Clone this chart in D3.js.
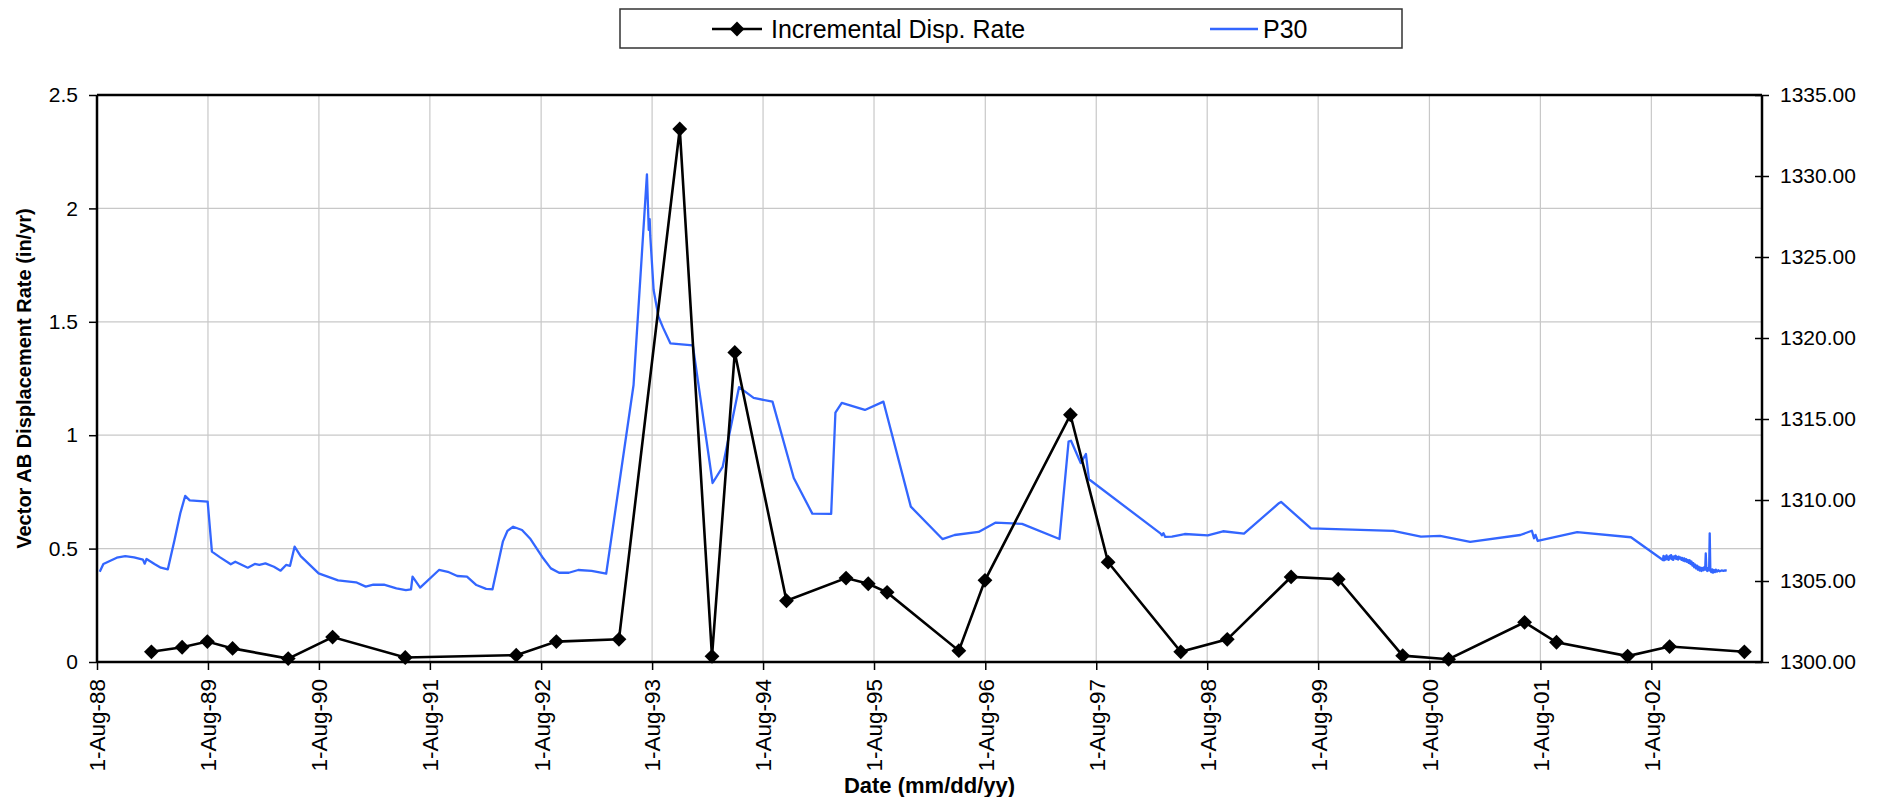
<!DOCTYPE html>
<html>
<head>
<meta charset="utf-8">
<script src="https://cdn.jsdelivr.net/npm/d3@7/dist/d3.min.js"></script>
<style>
  body { margin: 0; background: #fff; }
  text { font-family: "Liberation Sans", Arial, sans-serif; fill: #000; }
</style>
</head>
<body>
<svg id="chart" width="1881" height="797"></svg>
<script>
// Incremental displacement rate (in/yr), primary axis
const rateDates = ["1989-01-27","1989-05-08","1989-07-30","1989-10-21","1990-04-22","1990-09-15",
  "1991-05-12","1992-05-11","1992-09-20","1993-04-14","1993-10-31","1994-02-14","1994-04-30",
  "1994-10-17","1995-05-01","1995-07-13","1995-09-13","1996-05-06","1996-07-31","1997-05-08",
  "1997-09-09","1998-05-06","1998-10-06","1999-05-04","1999-10-06","2000-05-05","2000-10-03",
  "2001-06-10","2001-09-23","2002-05-15","2002-09-30","2003-06-03"];
const rateValues = [0.045,0.065,0.09,0.06,0.015,0.11,0.02,0.03,0.09,0.10,2.35,0.025,1.365,
  0.27,0.37,0.345,0.307,0.05,0.36,1.09,0.44,0.045,0.10,0.375,0.365,0.028,0.012,
  0.175,0.087,0.026,0.068,0.045];

// P30 piezometer elevation, secondary axis
const p30Dates = ["1988-08-10","1988-08-22","1988-10-05","1988-11-02","1988-12-01","1988-12-30",
  "1989-01-05","1989-01-11","1989-02-06","1989-02-27","1989-03-22","1989-04-13","1989-05-02",
  "1989-05-18","1989-06-02","1989-07-31","1989-08-14","1989-09-10","1989-10-15","1989-10-30",
  "1989-12-10","1990-01-02","1990-01-17","1990-02-06","1990-03-06","1990-03-28","1990-04-15",
  "1990-04-28","1990-05-13","1990-06-02","1990-07-31","1990-10-03","1990-12-01","1991-01-02",
  "1991-01-27","1991-03-03","1991-04-13","1991-05-14","1991-05-31","1991-06-05","1991-06-30",
  "1991-08-31","1991-09-29","1991-10-30","1991-12-01","1992-01-01","1992-02-02","1992-02-23",
  "1992-03-28","1992-04-12","1992-05-01","1992-05-30","1992-06-27","1992-08-04","1992-09-02",
  "1992-09-29","1992-10-31","1992-12-01","1993-01-14","1993-03-03","1993-06-01","1993-07-15",
  "1993-07-21","1993-07-24","1993-07-26","1993-08-06","1993-08-22","1993-09-06","1993-09-30",
  "1993-12-13","1994-02-16","1994-03-21","1994-05-14","1994-07-01","1994-09-01","1994-11-10",
  "1995-01-10","1995-03-13","1995-03-27","1995-04-17","1995-07-02","1995-09-01","1995-11-30",
  "1996-03-13","1996-04-22","1996-07-10","1996-09-03","1996-11-30","1997-04-02","1997-05-02",
  "1997-05-10","1997-06-11","1997-06-28","1997-07-08","1998-02-28","1998-03-05","1998-03-10",
  "1998-03-16","1998-04-07","1998-05-19","1998-08-03","1998-09-22","1998-11-30","1999-03-25",
  "1999-04-01","1999-07-08","2000-04-04","2000-07-04","2000-09-05","2000-12-13","2001-05-27",
  "2001-07-04","2001-07-11","2001-07-16","2001-07-23","2001-11-30","2002-05-26",
  "2002-09-08","2002-09-10","2002-09-12","2002-09-15","2002-09-17","2002-09-20","2002-09-22",
  "2002-09-25","2002-09-27","2002-09-30","2002-10-02","2002-10-05","2002-10-07","2002-10-10",
  "2002-10-12","2002-10-15","2002-10-17","2002-10-20","2002-10-22","2002-10-25","2002-10-28",
  "2002-10-30","2002-11-02","2002-11-05","2002-11-08","2002-11-11","2002-11-14","2002-11-17",
  "2002-11-20","2002-11-23","2002-11-26","2002-11-29","2002-12-02","2002-12-05","2002-12-08",
  "2002-12-11","2002-12-14","2002-12-17","2002-12-20","2002-12-23","2002-12-26","2002-12-29",
  "2003-01-01","2003-01-04","2003-01-07","2003-01-10","2003-01-13","2003-01-16","2003-01-19",
  "2003-01-22","2003-01-25","2003-01-27","2003-01-29","2003-02-01","2003-02-04","2003-02-07",
  "2003-02-09","2003-02-11","2003-02-14","2003-02-17","2003-02-20","2003-02-23","2003-02-26",
  "2003-03-01","2003-03-05","2003-03-09","2003-03-14","2003-03-20","2003-03-26","2003-04-01",
  "2003-04-06"];
const p30Values = [1305.57,1306.05,1306.44,1306.54,1306.46,1306.32,
  1306.07,1306.36,1306.05,1305.82,1305.72,1307.53,1309.18,
  1310.25,1309.98,1309.90,1306.81,1306.46,1306.03,1306.19,
  1305.82,1306.05,1305.99,1306.09,1305.88,1305.64,1305.99,
  1305.94,1307.12,1306.54,1305.47,1305.04,1304.92,1304.65,
  1304.77,1304.77,1304.55,1304.44,1304.49,1305.27,1304.59,
  1305.68,1305.57,1305.31,1305.27,1304.75,1304.51,1304.49,
  1307.43,1308.09,1308.35,1308.15,1307.59,1306.50,1305.78,
  1305.51,1305.51,1305.68,1305.62,1305.45,1317.10,1330.10,
  1326.67,1327.33,1326.30,1322.96,1321.31,1320.64,1319.67,
  1319.55,1311.05,1312.04,1316.97,1316.30,1316.07,1311.36,
  1309.16,1309.14,1315.39,1316.00,1315.56,1316.07,1309.59,
  1307.59,1307.84,1308.03,1308.60,1308.53,1307.59,1313.60,
  1313.66,1312.28,1312.84,1311.28,1307.94,1307.82,1307.95,
  1307.72,1307.74,1307.90,1307.82,1308.07,1307.92,1309.80,
  1309.88,1308.25,1308.10,1307.74,1307.78,1307.41,1307.84,
  1308.10,1307.64,1307.85,1307.47,1308.02,1307.70,
  1306.30,1306.55,1306.28,1306.50,1306.32,1306.58,1306.35,
  1306.48,1306.30,1306.55,1306.40,1306.60,1306.35,1306.50,
  1306.30,1306.52,1306.42,1306.56,1306.36,1306.48,1306.32,
  1306.50,1306.38,1306.46,1306.30,1306.42,1306.25,1306.40,
  1306.22,1306.35,1306.18,1306.30,1306.12,1306.28,1306.05,
  1306.20,1305.95,1306.10,1305.85,1306.02,1305.78,1305.95,
  1305.70,1305.88,1305.65,1305.82,1305.62,1305.80,1305.66,
  1305.85,1305.70,1306.70,1305.75,1305.62,1305.80,1305.65,
  1307.94,1305.70,1305.55,1305.72,1305.52,1305.68,1305.55,
  1305.70,1305.58,1305.66,1305.60,1305.65,1305.62,1305.66,
  1305.64];

// Axis ticks
const leftTicks = [0, 0.5, 1, 1.5, 2, 2.5];
const rightTicks = [1300, 1305, 1310, 1315, 1320, 1325, 1330, 1335];
const tickYears = d3.range(1988, 2003);
const xStart = "1988-08-01", xEnd = "2003-07-31";

const parse = d3.timeParse("%Y-%m-%d");
const W = 1881, H = 797;
const m = { left: 97, right: 119, top: 95, bottom: 135 };
const iw = W - m.left - m.right, ih = H - m.top - m.bottom;

const svg = d3.select("#chart");
const g = svg.append("g").attr("transform", `translate(${m.left},${m.top})`);

const x = d3.scaleTime().domain([parse(xStart), parse(xEnd)]).range([0, iw]);
const yL = d3.scaleLinear().domain([0, 2.5]).range([ih, 0]);
const yR = d3.scaleLinear().domain([1300, 1335]).range([ih, 0]);
const xTickDates = tickYears.map(yr => new Date(yr, 7, 1));

// gridlines
g.append("g").selectAll("line").data(leftTicks.filter(v => v > 0 && v < 2.5)).join("line")
  .attr("x1", 0).attr("x2", iw).attr("y1", d => yL(d)).attr("y2", d => yL(d))
  .attr("stroke", "#c8c8c8").attr("stroke-width", 1.2);
g.append("g").selectAll("line").data(xTickDates.slice(1)).join("line")
  .attr("x1", d => x(d)).attr("x2", d => x(d)).attr("y1", 0).attr("y2", ih)
  .attr("stroke", "#c8c8c8").attr("stroke-width", 1.2);

// P30 line
const p30 = p30Dates.map((d, i) => ({ date: parse(d), v: p30Values[i] }));
g.append("path").datum(p30)
  .attr("fill", "none").attr("stroke", "#3366ff").attr("stroke-width", 2.3)
  .attr("stroke-linejoin", "round")
  .attr("d", d3.line().x(d => x(d.date)).y(d => yR(d.v)));

// Incremental rate line with diamond markers
const rate = rateDates.map((d, i) => ({ date: parse(d), v: rateValues[i] }));
g.append("path").datum(rate)
  .attr("fill", "none").attr("stroke", "#000").attr("stroke-width", 2.6)
  .attr("d", d3.line().x(d => x(d.date)).y(d => yL(d.v)));
const diamond = d3.symbol().type(d3.symbolSquare).size(110);
g.append("g").selectAll("path").data(rate).join("path")
  .attr("d", diamond)
  .attr("transform", d => `translate(${x(d.date)},${yL(d.v)}) rotate(45)`)
  .attr("fill", "#000");

// frame
g.append("line").attr("x1", 0).attr("x2", iw).attr("y1", 0).attr("y2", 0)
  .attr("stroke", "#000").attr("stroke-width", 2.5);

// axes
const fs = "21px";
const axL = g.append("g").call(d3.axisLeft(yL).tickValues(leftTicks).tickSize(8).tickPadding(11)
  .tickFormat(d3.format("~g")));
const axR = g.append("g").attr("transform", `translate(${iw},0)`)
  .call(d3.axisRight(yR).tickValues(rightTicks).tickSizeInner(8).tickSizeOuter(0).tickPadding(10)
  .tickFormat(d3.format(".2f")));
axR.selectAll(".tick line").attr("x1", -7).attr("x2", 7);
const axB = g.append("g").attr("transform", `translate(0,${ih})`)
  .call(d3.axisBottom(x).tickValues(xTickDates).tickSize(8).tickPadding(10)
  .tickFormat(d3.timeFormat("%-d-%b-%y")));

[axL, axR, axB].forEach(a => {
  a.select(".domain").attr("stroke", "#000").attr("stroke-width", 2.5);
  a.selectAll(".tick line").attr("stroke", "#000").attr("stroke-width", 1.5);
  a.selectAll("text").attr("font-size", fs).attr("fill", "#000")
    .style("font-family", '"Liberation Sans", Arial, sans-serif');
});
axB.selectAll("text").attr("transform", "rotate(-90)")
  .attr("text-anchor", "end").attr("y", 0).attr("x", -17).attr("dy", "0.35em")
  .attr("font-size", "22.5px");
axL.select(".domain").attr("d", `M0,${ih}V0`);
axR.select(".domain").attr("d", `M0,${ih}V0`);
axB.select(".domain").attr("d", `M0,0H${iw}`);

// axis titles
svg.append("text")
  .attr("transform", `translate(24,${m.top + ih / 2}) rotate(-90)`)
  .attr("text-anchor", "middle").attr("dy", "0.35em")
  .attr("font-size", "20px").attr("font-weight", "bold")
  .text("Vector AB Displacement Rate (in/yr)");
svg.append("text")
  .attr("x", m.left + iw / 2).attr("y", 793)
  .attr("text-anchor", "middle")
  .attr("font-size", "22px").attr("font-weight", "bold")
  .text("Date (mm/dd/yy)");

// legend
const lg = svg.append("g");
lg.append("rect").attr("x", 620).attr("y", 9).attr("width", 782).attr("height", 39)
  .attr("fill", "#fff").attr("stroke", "#333").attr("stroke-width", 1.5);
lg.append("line").attr("x1", 712).attr("x2", 762).attr("y1", 29).attr("y2", 29)
  .attr("stroke", "#000").attr("stroke-width", 2.6);
lg.append("path").attr("d", diamond).attr("transform", "translate(737,29) rotate(45)").attr("fill", "#000");
lg.append("text").attr("x", 771).attr("y", 29).attr("dy", "0.35em")
  .attr("font-size", "25px").text("Incremental Disp. Rate");
lg.append("line").attr("x1", 1210).attr("x2", 1258).attr("y1", 29).attr("y2", 29)
  .attr("stroke", "#3366ff").attr("stroke-width", 2.3);
lg.append("text").attr("x", 1263).attr("y", 29).attr("dy", "0.35em")
  .attr("font-size", "25px").text("P30");
</script>
</body>
</html>
